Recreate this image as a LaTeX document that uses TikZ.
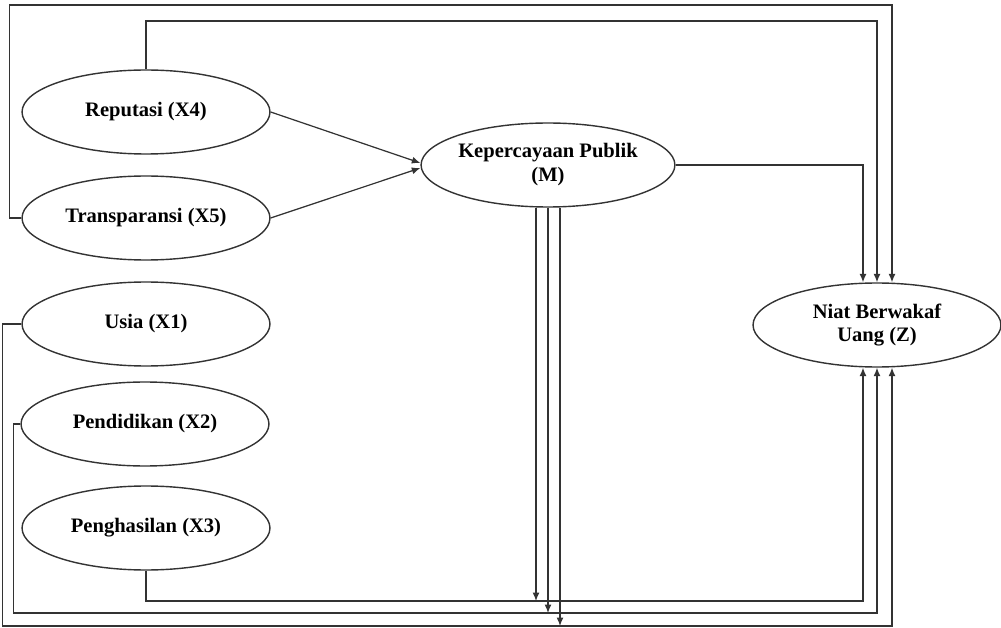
\documentclass[tikz,border=0pt]{standalone}
\usepackage{fontspec}
\setmainfont{Liberation Serif}
\usetikzlibrary{arrows.meta,calc,shapes.geometric}

\begin{document}
\begin{tikzpicture}[
    x=0.02cm, y=-0.02cm,
    >={Latex[length=1.7mm,width=1.4mm]},
    varbox/.style={
        ellipse,
        draw=black!80,
        line width=0.8pt,
        minimum width=4.96cm,
        minimum height=1.68cm, % same size for every construct
        inner sep=0pt,
        align=center,
        font=\fontsize{11.7}{13.6}\selectfont\bfseries
    },
    arrow/.style={->, line width=0.7pt, draw=black!80}
]
\useasboundingbox (0,0) rectangle (1001,628);

% Nodes
\node[varbox] (x4) at (146,112) {Reputasi (X4)};
\node[varbox] (x5) at (146,218) {Transparansi (X5)};
\node[varbox] (x1) at (146,324) {Usia (X1)};
\node[varbox] (x2) at (145,424) {Pendidikan (X2)};
\node[varbox] (x3) at (146,528) {Penghasilan (X3)};
\node[varbox] (m) at (548,165) {Kepercayaan Publik\\(M)};
\node[varbox] (z) at (877,325) {Niat Berwakaf\\Uang (Z)};

% Routing points
\coordinate (mw1) at ($(m.west)+(0,-2)$);
\coordinate (mw2) at ($(m.west)+(0,3)$);
\coordinate (ms1) at ($(m.south)+(-12,0)$);
\coordinate (ms3) at ($(m.south)+(12,0)$);
\coordinate (zt1) at ($(z.north)+(-14,0)$);
\coordinate (zt3) at ($(z.north)+(15,0)$);
\coordinate (zb1) at ($(z.south)+(-14,0)$);
\coordinate (zb3) at ($(z.south)+(15,0)$);
\coordinate (top1) at (0,21);
\coordinate (top2) at (0,5);
\coordinate (bot1) at (0,601);
\coordinate (bot2) at (0,613);
\coordinate (bot3) at (0,626);

% Connections
\draw[arrow] (x4.east) -- (mw1);
\draw[arrow] (x5.east) -- (mw2);
\draw[arrow] (m.east) -| (zt1);
\draw[arrow] (x4.north) |- (top1 -| z.north) -- (z.north);
\draw[arrow] (x5.west) -- ++(-12,0) |- (top2 -| zt3) -- (zt3);
\draw[arrow] (x3.south) |- (bot1 -| zb1) -- (zb1);
\draw[arrow] (x2.west) -- ++(-7,0) |- (bot2 -| z.south) -- (z.south);
\draw[arrow] (x1.west) -- ++(-19,0) |- (bot3 -| zb3) -- (zb3);

% Moderation
\draw[arrow] (ms1) -- (ms1 |- bot1);
\draw[arrow] (m.south) -- (m.south |- bot2);
\draw[arrow] (ms3) -- (ms3 |- bot3);

\end{tikzpicture}
\end{document}
